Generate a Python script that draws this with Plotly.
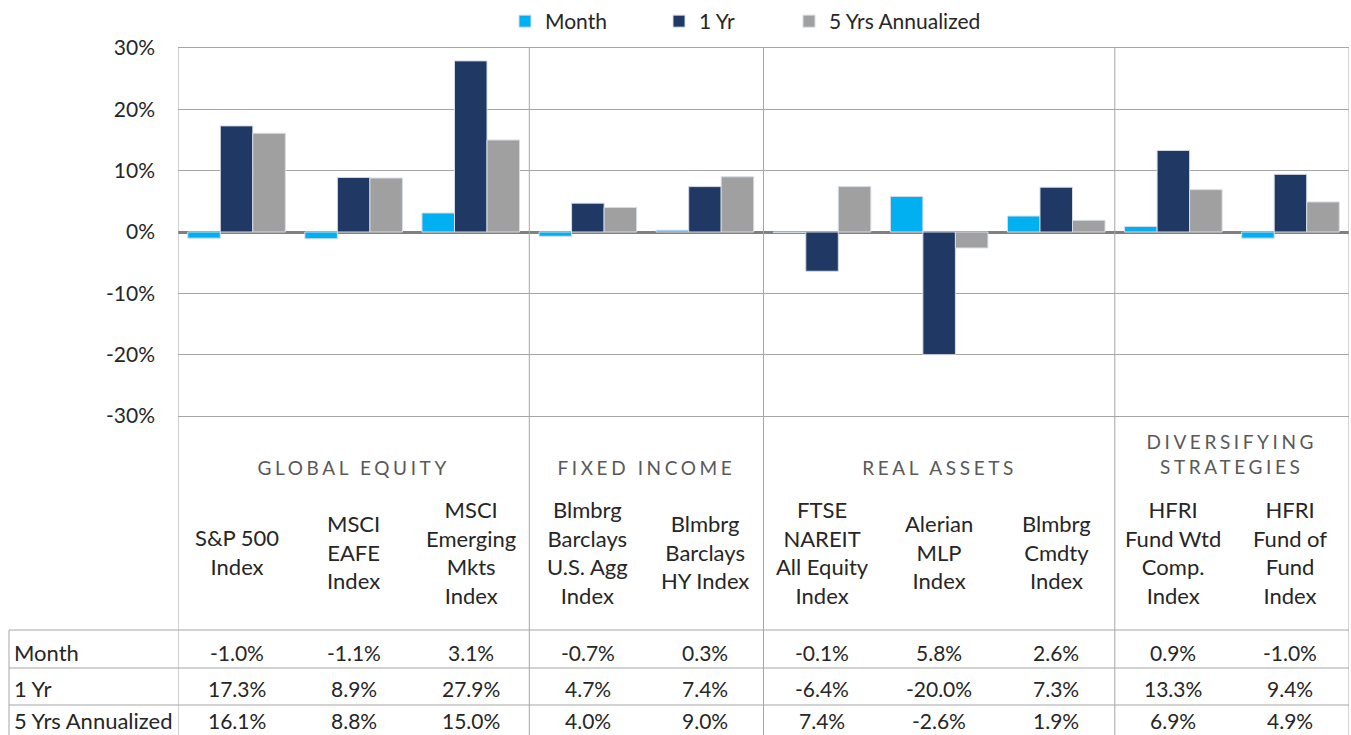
import plotly.graph_objects as go

W, H = 1351, 735

categories = ["S&P 500 Index", "MSCI EAFE Index", "MSCI Emerging Mkts Index",
              "Blmbrg Barclays U.S. Agg Index", "Blmbrg Barclays HY Index",
              "FTSE NAREIT All Equity Index", "Alerian MLP Index", "Blmbrg Cmdty Index",
              "HFRI Fund Wtd Comp. Index", "HFRI Fund of Fund Index"]
category_labels = ["S&P 500<br>Index", "MSCI<br>EAFE<br>Index", "MSCI<br>Emerging<br>Mkts<br>Index",
                   "Blmbrg<br>Barclays<br>U.S. Agg<br>Index", "Blmbrg<br>Barclays<br>HY Index",
                   "FTSE<br>NAREIT<br>All Equity<br>Index", "Alerian<br>MLP<br>Index",
                   "Blmbrg<br>Cmdty<br>Index", "HFRI<br>Fund Wtd<br>Comp.<br>Index",
                   "HFRI<br>Fund of<br>Fund<br>Index"]
month = [-1.0, -1.1, 3.1, -0.7, 0.3, -0.1, 5.8, 2.6, 0.9, -1.0]
one_yr = [17.3, 8.9, 27.9, 4.7, 7.4, -6.4, -20.0, 7.3, 13.3, 9.4]
five_yr = [16.1, 8.8, 15.0, 4.0, 9.0, 7.4, -2.6, 1.9, 6.9, 4.9]
series_names = ["Month", "1 Yr", "5 Yrs Annualized"]
groups = [("GLOBAL EQUITY", 0, 2), ("FIXED INCOME", 3, 4),
          ("REAL ASSETS", 5, 7), ("DIVERSIFYING<br>STRATEGIES", 8, 9)]
y_ticks = [-30, -20, -10, 0, 10, 20, 30]

colors = ["#00B0F0", "#1F3864", "#A0A0A0"]
FONT = "Lato"
TXT = "#262626"
GRID = "#A6A6A6"


def py(y):
    return 1 - y / H


def px(x):
    return x / W


fig = go.Figure()
legend_ids = ["legend", "legend2", "legend3"]
for name, vals, col, lg in zip(series_names, [month, one_yr, five_yr], colors, legend_ids):
    fig.add_trace(go.Bar(x=categories, y=vals, name=name, marker_color=col,
                         marker_line=dict(color="#D6DCE5", width=1), legend=lg,
                         hoverinfo="x+y+name"))

shapes = []
seps = [-0.5] + [g[2] + 0.5 for g in groups]
for s in seps:
    shapes.append(dict(type="line", xref="x", yref="paper", x0=s, x1=s, y0=0, y1=py(48),
                       line=dict(color=GRID, width=1)))
for yy in [630, 668, 705]:
    shapes.append(dict(type="line", xref="paper", yref="paper", x0=px(9), x1=px(1349),
                       y0=py(yy), y1=py(yy), line=dict(color=GRID, width=1)))
shapes.append(dict(type="line", xref="paper", yref="paper", x0=px(9), x1=px(9),
                   y0=0, y1=py(630), line=dict(color=GRID, width=1)))

ann = []
for c, lab in zip(categories, category_labels):
    ann.append(dict(x=c, xref="x", y=py(552), yref="paper", text=lab, showarrow=False,
                    xanchor="center", yanchor="middle", font=dict(family=FONT, size=22, color=TXT)))
for gname, a, b in groups:
    two = "<br>" in gname
    ann.append(dict(x=(a + b) / 2, xref="x", y=py(453.5 if two else 467), yref="paper", text=gname,
                    showarrow=False, xanchor="center", yanchor="middle",
                    font=dict(family=FONT, size=19, color="#595959")))
row_y = [652, 688, 720]
for name, vals, yy in zip(series_names, [month, one_yr, five_yr], row_y):
    ann.append(dict(x=px(12), xref="paper", y=py(yy), yref="paper", text=name, showarrow=False,
                    xanchor="left", yanchor="middle", font=dict(family=FONT, size=22, color=TXT)))
    for c, v in zip(categories, vals):
        ann.append(dict(x=c, xref="x", y=py(yy), yref="paper", text=f"{v:.1f}%", showarrow=False,
                        xanchor="center", yanchor="middle", font=dict(family=FONT, size=21, color=TXT)))

legend_x = [505, 659, 789]
leg = {}
for lg, lx in zip(legend_ids, legend_x):
    leg[lg] = dict(x=px(lx), y=py(1), xanchor="left", yanchor="top", orientation="h",
                   font=dict(family=FONT, size=21, color=TXT), bgcolor="rgba(0,0,0,0)")

fig.update_layout(
    width=W, height=H, margin=dict(l=0, r=0, t=0, b=0, autoexpand=False),
    paper_bgcolor="white", plot_bgcolor="white",
    barmode="group", bargap=0.167, bargroupgap=0,
    font=dict(family=FONT, size=20, color=TXT),
    showlegend=True,
    xaxis=dict(domain=[px(178), px(1349)], range=[-0.5, 9.5], showticklabels=False,
               showgrid=False, zeroline=False, showline=True, mirror=True, linecolor=GRID,
               linewidth=1, fixedrange=True),
    yaxis=dict(domain=[py(416), py(48)], range=[-30, 30], tickvals=y_ticks,
               ticktext=[f"{t}%" for t in y_ticks], showgrid=True, gridcolor=GRID, gridwidth=1,
               zeroline=True, zerolinecolor="#808080", zerolinewidth=3, showline=False,
               ticks="", ticklabelstandoff=22, tickfont=dict(family=FONT, size=21, color=TXT),
               fixedrange=True),
    shapes=shapes, annotations=ann,
    **leg,
)

post = """
document.body.style.margin='0';
var gd = document.getElementsByClassName('plotly-graph-div')[0];
function spacing(){
  document.querySelectorAll('.annotation-text').forEach(function(t){
    var s = t.textContent;
    if (/^[A-Z ]+$/.test(s) && s.length > 6) { t.style.letterSpacing = '3.6px'; }
  });
}
spacing();
gd.on('plotly_afterplot', spacing);
"""
fig.write_html("out.html", post_script=post, config={"displayModeBar": False})
